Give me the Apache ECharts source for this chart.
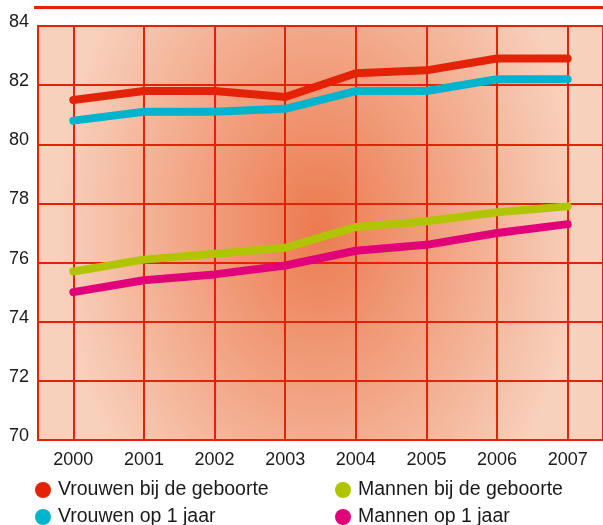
<!DOCTYPE html>
<html>
<head>
<meta charset="utf-8">
<script src="https://cdn.jsdelivr.net/npm/echarts@6/dist/echarts.min.js"></script>
<style>
  html, body { margin: 0; padding: 0; background: #ffffff; }
  #chart { width: 603px; height: 525px; }
</style>
</head>
<body>
<div id="chart"></div>
<script>
// Levensverwachting 2000-2007
const years = [2000, 2001, 2002, 2003, 2004, 2005, 2006, 2007];
const yTicks = [70, 72, 74, 76, 78, 80, 82, 84];

const seriesNames = [
  'Vrouwen bij de geboorte',
  'Vrouwen op 1 jaar',
  'Mannen bij de geboorte',
  'Mannen op 1 jaar'
];
const vrouwenGeboorte = [81.5, 81.8, 81.8, 81.6, 82.4, 82.5, 82.9, 82.9];
const vrouwenEenJaar  = [80.8, 81.1, 81.1, 81.2, 81.8, 81.8, 82.2, 82.2];
const mannenGeboorte  = [75.7, 76.1, 76.3, 76.5, 77.2, 77.4, 77.7, 77.9];
const mannenEenJaar   = [75.0, 75.4, 75.6, 75.9, 76.4, 76.6, 77.0, 77.3];

const RED = '#e42208';
const colors = [RED, '#00b4cd', '#b1c400', '#e2007a'];
const values = [vrouwenGeboorte, vrouwenEenJaar, mannenGeboorte, mannenEenJaar];

// plot box
const G = { left: 38, top: 26, width: 565, height: 414 };
// elliptical glow behind the plot: a circular gradient stretched vertically
const glow = { cx: 318, cy: 225, stretch: 1.4, radius: 262 };
const glowRect = {
  x: G.left,
  y: glow.cy + (G.top - glow.cy) / glow.stretch,
  width: G.width,
  height: G.height / glow.stretch
};

const chart = echarts.init(document.getElementById('chart'), null, { renderer: 'canvas' });

const legendBase = {
  orient: 'vertical',
  top: 480,
  height: 60,
  padding: 0,
  icon: 'circle',
  itemWidth: 16,
  itemHeight: 16,
  itemGap: 7,
  itemStyle: { borderWidth: 0 },
  selectedMode: false,
  textStyle: {
    fontFamily: 'Liberation Sans',
    fontSize: 19.5,
    color: '#1a1a1a',
    lineHeight: 20,
    padding: [0, 0, 0, 2]
  }
};

const axisFont = {
  fontFamily: 'Liberation Sans',
  fontSize: 18,
  color: '#1a1a1a'
};

chart.setOption({
  animation: false,
  color: colors,
  graphic: [{
    type: 'line',
    shape: { x1: 34, y1: 7.5, x2: 603, y2: 7.5 },
    style: { stroke: RED, lineWidth: 3 }
  }, {
    type: 'rect',
    z: -10,
    silent: true,
    shape: glowRect,
    originX: glow.cx,
    originY: glow.cy,
    scaleY: glow.stretch,
    style: {
      fill: {
        type: 'radial',
        x: (glow.cx - glowRect.x) / glowRect.width,
        y: (glow.cy - glowRect.y) / glowRect.height,
        r: glow.radius / Math.min(glowRect.width, glowRect.height),
        colorStops: [
          { offset: 0, color: '#ec7a4f' },
          { offset: 0.5, color: '#f2a585' },
          { offset: 1, color: '#f8d1bc' }
        ]
      }
    }
  }],
  grid: {
    left: G.left, top: G.top, right: 603 - G.left - G.width, bottom: 525 - G.top - G.height,
    show: true,
    borderColor: RED,
    borderWidth: 2,
    backgroundColor: 'transparent'
  },
  legend: [
    Object.assign({}, legendBase, { left: 35, data: [seriesNames[0], seriesNames[1]] }),
    Object.assign({}, legendBase, { left: 335, data: [seriesNames[2], seriesNames[3]] })
  ],
  xAxis: {
    type: 'value',
    min: years[0] - 0.5,
    max: years[years.length - 1] + 0.5,
    axisLine: { show: false },
    axisTick: { show: false, customValues: years },
    splitLine: { show: true, lineStyle: { color: RED, width: 2 } },
    axisLabel: Object.assign({
      customValues: years,
      margin: 11,
      formatter: v => String(v)
    }, axisFont)
  },
  yAxis: {
    type: 'value',
    min: yTicks[0],
    max: yTicks[yTicks.length - 1],
    interval: 2,
    axisLine: { show: false },
    axisTick: { show: false },
    splitLine: { show: true, lineStyle: { color: RED, width: 2 } },
    axisLabel: Object.assign({
      margin: 9,
      verticalAlign: 'bottom',
      lineHeight: 8
    }, axisFont)
  },
  series: seriesNames.map((name, i) => ({
    name: name,
    type: 'line',
    data: years.map((y, j) => [y, values[i][j]]),
    showSymbol: false,
    symbol: 'circle',
    color: colors[i],
    lineStyle: { width: 8, color: colors[i], cap: 'round', join: 'round' },
    z: 10 - i
  }))
});
</script>
</body>
</html>
